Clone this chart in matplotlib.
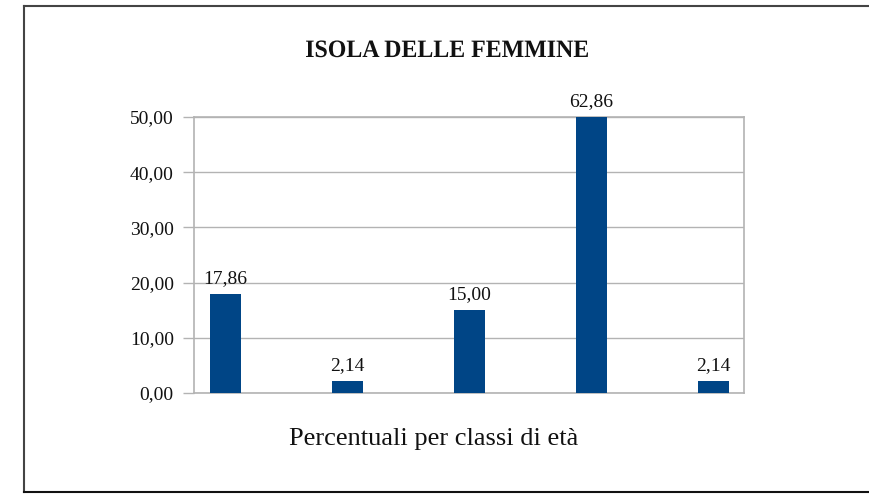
import numpy as np
import matplotlib
matplotlib.use('Agg')
import matplotlib.pyplot as plt
from matplotlib.lines import Line2D
from matplotlib.textpath import TextPath
from matplotlib.patches import PathPatch
from matplotlib.font_manager import FontProperties
from matplotlib.transforms import Affine2D, IdentityTransform

# Age-class percentages
classes = ["0-14", "15-29", "30-44", "45-64", "65+"]
values = [17.86, 2.14, 15.00, 62.86, 2.14]
y_ticks = [0, 10, 20, 30, 40, 50]
title = "ISOLA DELLE FEMMINE"
x_label = "Percentuali per classi di età"

BAR_COLOR = '#004586'
GRID_COLOR = '#b3b3b3'
TEXT_COLOR = '#111111'
SERIF = ['Liberation Serif', 'DejaVu Serif']

W, H = 870, 494
fig = plt.figure(figsize=(W / 100, H / 100), dpi=100, facecolor='white')

# plot area in pixels: left 194, right 744, top 117, bottom 393
ax = fig.add_axes([194 / W, 1 - 393 / H, 550 / W, 276 / H])

x = np.arange(len(values))
ax.bar(x, values, width=0.254, color=BAR_COLOR, zorder=3)
ax.set_xlim(-0.258, len(values) - 1 + 0.25)
ax.set_ylim(0, 50)

for xi, v in zip(x, values):
    shown = min(v, 50)
    ax.annotate(f"{v:.2f}".replace('.', ','), (xi, shown), xytext=(0, 5),
                textcoords='offset points', ha='center', va='bottom',
                fontsize=14, family=SERIF, color=TEXT_COLOR, annotation_clip=False)

ax.set_yticks(y_ticks)
ax.set_yticklabels([f"{t:.2f}".replace('.', ',') for t in y_ticks],
                   fontsize=14, family=SERIF, color=TEXT_COLOR)
ax.set_xticks([])
ax.tick_params(axis='y', length=8, width=1, color=GRID_COLOR, pad=6.5)
ax.yaxis.grid(True, color=GRID_COLOR, linewidth=1, zorder=0)
for spine in ax.spines.values():
    spine.set_color(GRID_COLOR)
    spine.set_linewidth(1.2)

# title drawn as a path so it can be squeezed horizontally
fp = FontProperties(family=SERIF, weight='bold')
tp = TextPath((0, 0), title, size=25, prop=fp)
ext = tp.get_extents()
sx = 282 / ext.width
tr = (Affine2D().translate(-ext.x0, 0).scale(sx, 1)
      .translate(306, H - 57))
fig.add_artist(PathPatch(tr.transform_path(tp), transform=IdentityTransform(),
                         facecolor=TEXT_COLOR, edgecolor='none'))

fig.text(434 / W, 1 - 439 / H, x_label, ha='center', va='center',
         fontsize=19, family=SERIF, color=TEXT_COLOR)

# outer frame: top, left and bottom edges
frame = dict(transform=fig.transFigure, color='#444444', linewidth=1.5)
fig.add_artist(Line2D([24 / W, 1], [1 - 6 / H, 1 - 6 / H], **frame))
fig.add_artist(Line2D([24 / W, 24 / W], [1 - 6 / H, 1 - 492 / H], **frame))
fig.add_artist(Line2D([24 / W, 1], [1 - 492 / H, 1 - 492 / H], color=TEXT_COLOR,
                      linewidth=1.5, transform=fig.transFigure))

fig.savefig('out.png', dpi=100, facecolor='white')
